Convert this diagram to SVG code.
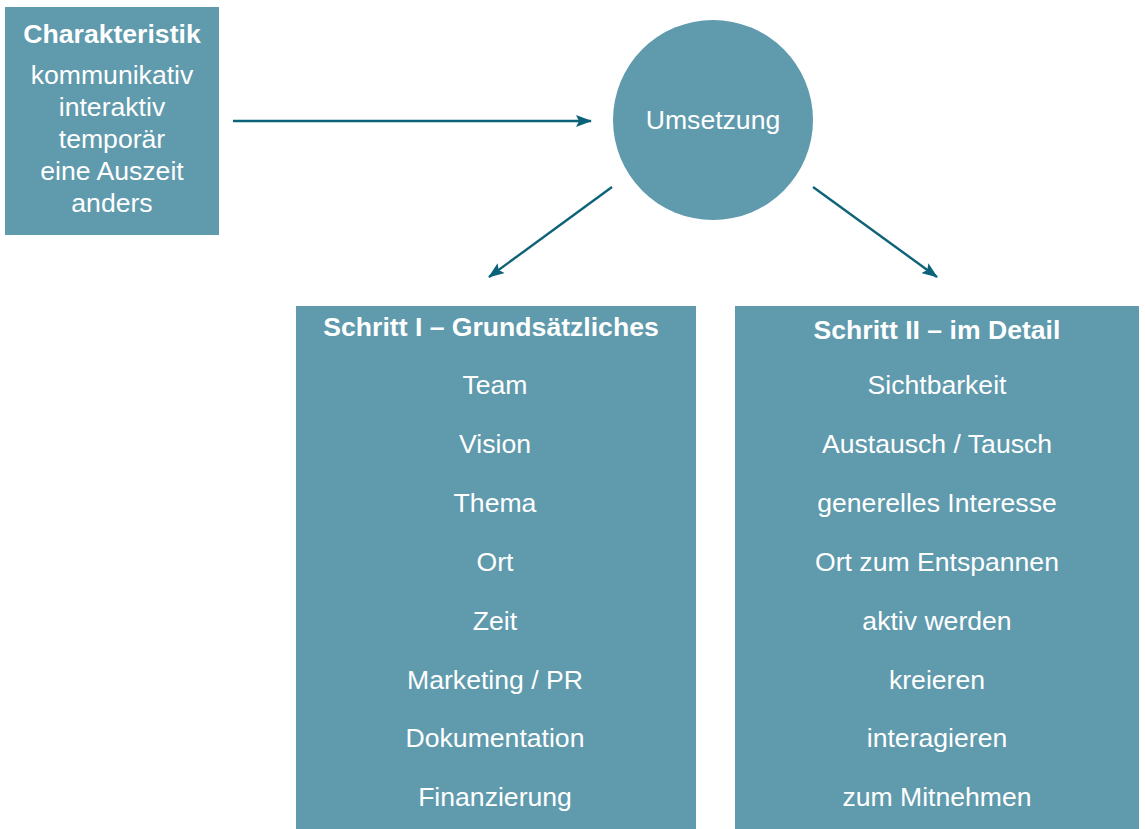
<svg xmlns="http://www.w3.org/2000/svg" width="1145" height="829" viewBox="0 0 1145 829">
  <defs>
    <style>
      .box { fill: #5f9aad; }
      .t { font-family: "Liberation Sans", Arial, sans-serif; fill: #ffffff; text-anchor: middle; font-size: 26.6px; }
      .b { font-weight: bold; }
      .edge { stroke: #0c6379; stroke-width: 2.4; fill: none; marker-end: url(#arrow); }
    </style>
    <marker id="arrow" viewBox="0 0 16 12" refX="15" refY="6" markerWidth="16" markerHeight="12" markerUnits="userSpaceOnUse" orient="auto">
      <path d="M0,0 L16,6 L0,12 L3,6 Z" fill="#0c6379"/>
    </marker>
  </defs>
  <rect width="1145" height="829" fill="#ffffff"/>

  <g id="charakteristik">
    <rect class="box" x="5" y="7" width="214" height="228"/>
    <text class="t b" x="112" y="43">Charakteristik</text>
    <text class="t" x="112" y="84">kommunikativ</text>
    <text class="t" x="112" y="116">interaktiv</text>
    <text class="t" x="112" y="148">temporär</text>
    <text class="t" x="112" y="180">eine Auszeit</text>
    <text class="t" x="112" y="212">anders</text>
  </g>

  <g id="umsetzung">
    <circle class="box" cx="713" cy="120" r="100"/>
    <text class="t" x="713" y="129">Umsetzung</text>
  </g>

  <g id="schritt1">
    <rect class="box" x="296" y="306" width="400" height="523"/>
    <text class="t b" x="491" y="336">Schritt I – Grundsätzliches</text>
    <text class="t" x="495" y="394">Team</text>
    <text class="t" x="495" y="453">Vision</text>
    <text class="t" x="495" y="512">Thema</text>
    <text class="t" x="495" y="571">Ort</text>
    <text class="t" x="495" y="630">Zeit</text>
    <text class="t" x="495" y="689">Marketing / PR</text>
    <text class="t" x="495" y="747">Dokumentation</text>
    <text class="t" x="495" y="806">Finanzierung</text>
  </g>

  <g id="schritt2">
    <rect class="box" x="735" y="306" width="404" height="523"/>
    <text class="t b" x="937" y="339">Schritt II – im Detail</text>
    <text class="t" x="937" y="394">Sichtbarkeit</text>
    <text class="t" x="937" y="453">Austausch / Tausch</text>
    <text class="t" x="937" y="512">generelles Interesse</text>
    <text class="t" x="937" y="571">Ort zum Entspannen</text>
    <text class="t" x="937" y="630">aktiv werden</text>
    <text class="t" x="937" y="689">kreieren</text>
    <text class="t" x="937" y="747">interagieren</text>
    <text class="t" x="937" y="806">zum Mitnehmen</text>
  </g>

  <g id="connectors">
    <line class="edge" x1="233" y1="121" x2="591" y2="121"/>
    <line class="edge" x1="612" y1="187" x2="489" y2="277"/>
    <line class="edge" x1="813" y1="187" x2="937" y2="277"/>
  </g>
</svg>
